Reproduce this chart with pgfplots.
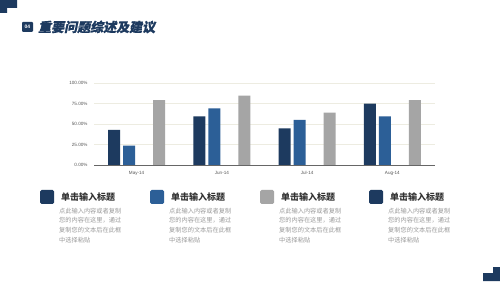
\documentclass[border=0pt]{standalone}
\usepackage{pgfplots}
\pgfplotsset{compat=1.18}
\usepackage{fontspec}
\setmainfont{Noto Sans CJK SC}
\newfontfamily\titlefont{Noto Sans CJK SC}[FakeSlant=0.2, BoldFeatures={FakeSlant=0.2, FakeBold=0.8}]
\newfontfamily\tickfont{Liberation Sans}
\definecolor{navy}{HTML}{1D3A5F}
\definecolor{mblue}{HTML}{2C5F97}
\definecolor{mgray}{HTML}{A5A5A5}
\definecolor{gridc}{HTML}{EDECE1}
\definecolor{labelc}{HTML}{555555}
\definecolor{headc}{HTML}{333333}
\definecolor{bodyc}{HTML}{9A9A9A}
\newcommand{\blk}[2]{%
  \fill[#2, rounded corners=1.5pt] (#1,77) rectangle (#1+14,91);
  \node[anchor=west, inner sep=0, text=headc, font=\bfseries\fontsize{9}{9}\selectfont] at (#1+21,84) {单击输入标题};
  \node[anchor=west, inner sep=0, text=bodyc, font=\fontsize{6.2}{6.2}\selectfont] at (#1+19,70) {点此输入内容或者复制};
  \node[anchor=west, inner sep=0, text=bodyc, font=\fontsize{6.2}{6.2}\selectfont] at (#1+19,60.5) {您的内容在这里，通过};
  \node[anchor=west, inner sep=0, text=bodyc, font=\fontsize{6.2}{6.2}\selectfont] at (#1+19,51) {复制您的文本后在此框};
  \node[anchor=west, inner sep=0, text=bodyc, font=\fontsize{6.2}{6.2}\selectfont] at (#1+19,41) {中选择粘贴};
}
\begin{document}
\begin{tikzpicture}
\begin{scope}[x=1pt,y=1pt]
\useasboundingbox (0,0) rectangle (500,281);
\fill[white] (0,0) rectangle (500,281);
\fill[navy] (0,281) -- (17,281) -- (17,273) -- (7,273) -- (7,268) -- (0,268) -- cycle;
\fill[navy] (500,0) -- (483,0) -- (483,8) -- (493,8) -- (493,14) -- (500,14) -- cycle;
\fill[navy, rounded corners=1pt] (22,249) rectangle (33,259);
\node[text=white, inner sep=0, font=\tickfont\bfseries\fontsize{5}{5}\selectfont] at (27.5,254) {04};
\node[anchor=west, inner sep=0, text=navy, font=\titlefont\bfseries\fontsize{13}{13}\selectfont] at (38,254) {重要问题综述及建议};
\blk{40}{navy}
\blk{150}{mblue}
\blk{260}{mgray}
\blk{369}{navy}
\end{scope}
\begin{axis}[
  at={(94pt,116pt)}, anchor=south west,
  scale only axis, width=341pt, height=82pt,
  ymin=0, ymax=100, xmin=-0.5, xmax=3.5,
  xtick={0,1,2,3}, xticklabels={May-14,Jun-14,Jul-14,Aug-14},
  ytick={0,25,50,75,100},
  yticklabels={0.00\%,25.00\%,50.00\%,75.00\%,100.00\%},
  ymajorgrids, grid style={color=gridc, line width=0.6pt},
  axis x line*=bottom, axis y line*=left,
  y axis line style={draw=none},
  x axis line style={draw=gray!80!black, line width=0.7pt, -},
  major tick length=0,
  /pgf/number format/assume math mode=true,
  tick label style={font=\tickfont\fontsize{4.6}{5}\selectfont, text=labelc},
  xticklabel shift=3pt,
  yticklabel shift=3pt,
  ybar, bar width=12pt,
]
\addplot[fill=navy, draw=none, bar shift=-22.5pt] coordinates {(0,42.7) (1,59.4) (2,44.7) (3,74.7)};
\addplot[fill=mblue, draw=none, bar shift=-7.5pt] coordinates {(0,23.5) (1,69) (2,55) (3,59.4)};
\addplot[fill=mgray, draw=none, bar shift=22.5pt] coordinates {(0,79) (1,84.5) (2,64) (3,79)};
\end{axis}
\end{tikzpicture}
\end{document}
